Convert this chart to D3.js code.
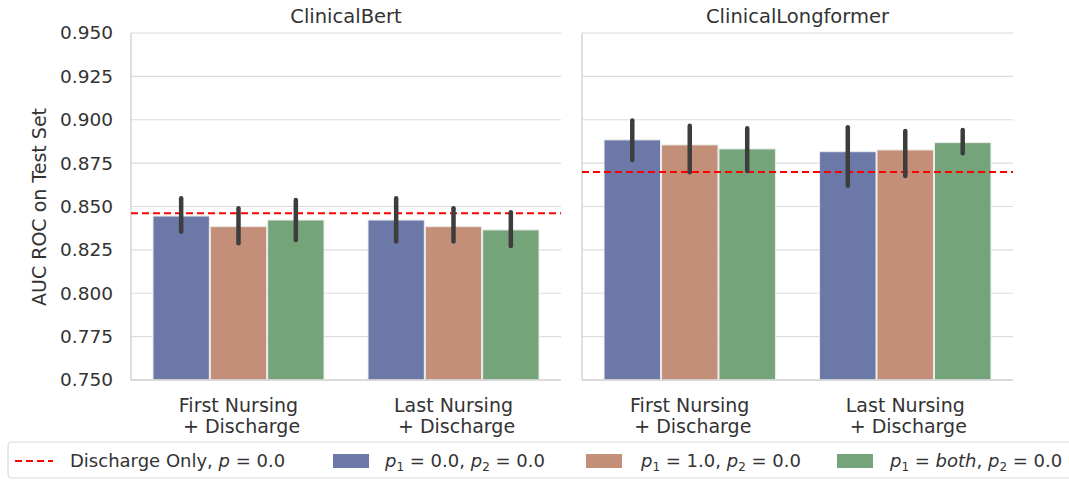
<!DOCTYPE html>
<html><head><meta charset="utf-8">
<script src="https://cdn.jsdelivr.net/npm/d3@7"></script>
<style>body{margin:0;background:#fff;} svg{font-family:"DejaVu Sans",sans-serif;}</style>
</head><body><svg id="c" width="1069" height="480"></svg>
<script>
const panels = ["ClinicalBert", "ClinicalLongformer"];
const categories = ["First Nursing\n + Discharge", "Last Nursing\n + Discharge"];
const seriesNames = ["p1=0.0,p2=0.0", "p1=1.0,p2=0.0", "p1=both,p2=0.0"];
const yTicks = [0.750, 0.775, 0.800, 0.825, 0.850, 0.875, 0.900, 0.925, 0.950];
// values[category][series]
const bertMeans = [[0.8445, 0.8384, 0.8422], [0.8422, 0.8384, 0.8365]];
const bertLow   = [[0.8355, 0.8288, 0.8307], [0.8298, 0.8298, 0.8273]];
const bertHigh  = [[0.8547, 0.8490, 0.8538], [0.8547, 0.8490, 0.8467]];
const longMeans = [[0.8884, 0.8855, 0.8832], [0.8816, 0.8826, 0.8868]];
const longLow   = [[0.8768, 0.8698, 0.8705], [0.8619, 0.8676, 0.8807]];
const longHigh  = [[0.8995, 0.8966, 0.8951], [0.8957, 0.8935, 0.8941]];
const baseline  = [0.8461, 0.8699];
const colors = ["#6c79a8", "#c48f78", "#75a37a"];

const means = [bertMeans, longMeans], lows = [bertLow, longLow], highs = [bertHigh, longHigh];
const svg = d3.select("#c");
const yTop = 33, yBottom = 380;
const panelX = [[131, 561], [582, 1013]];
const y = d3.scaleLinear().domain([0.75, 0.95]).range([yBottom, yTop]);
const txt = "#333";

panels.forEach((name, pi) => {
  const [x0, x1] = panelX[pi];
  const g = svg.append("g");
  const xc = d3.scaleBand().domain(categories).range([x0, x1]).padding(0);
  const inner = d3.scaleBand().domain(seriesNames).range([0, xc.bandwidth() * 0.8]).padding(0);
  g.selectAll("line.grid").data(yTicks).join("line")
    .attr("x1", x0).attr("x2", x1).attr("y1", d => y(d)).attr("y2", d => y(d))
    .attr("stroke", "#dcdcdc").attr("stroke-width", 1.2);
  categories.forEach((c, ci) => {
    const gx = xc(c) + xc.bandwidth() * 0.1;
    seriesNames.forEach((s, si) => {
      const bx = gx + inner(s);
      g.append("rect").attr("x", bx + 0.5).attr("width", inner.bandwidth() - 1)
        .attr("y", y(means[pi][ci][si])).attr("height", yBottom - y(means[pi][ci][si]))
        .attr("fill", colors[si]).attr("stroke", "#ececec").attr("stroke-width", 1);
    });
  });
  g.append("line").attr("x1", x0).attr("x2", x0).attr("y1", yTop).attr("y2", yBottom).attr("stroke", "#d4d4d4").attr("stroke-width", 1.5);
  g.append("line").attr("x1", x0).attr("x2", x1).attr("y1", yBottom).attr("y2", yBottom).attr("stroke", "#d4d4d4").attr("stroke-width", 1.5);
  g.append("line").attr("x1", x0).attr("x2", x1).attr("y1", y(baseline[pi])).attr("y2", y(baseline[pi]))
    .attr("stroke", "#f00").attr("stroke-width", 2).attr("stroke-dasharray", "7,4");
  categories.forEach((c, ci) => {
    const gx = xc(c) + xc.bandwidth() * 0.1;
    seriesNames.forEach((s, si) => {
      const cx = gx + inner(s) + inner.bandwidth() / 2;
      g.append("line").attr("x1", cx).attr("x2", cx)
        .attr("y1", y(lows[pi][ci][si])).attr("y2", y(highs[pi][ci][si]))
        .attr("stroke", "#3d3d3d").attr("stroke-width", 4.5).attr("stroke-linecap", "round");
    });
    const lines = c.split("\n");
    const cxm = xc(c) + xc.bandwidth() / 2;
    const t = g.append("text").attr("x", cxm).attr("y", 412)
      .attr("text-anchor", "middle").attr("font-size", 19).attr("fill", txt);
    lines.forEach((l, li) => t.append("tspan").attr("x", cxm).attr("dy", li ? 21 : 0).text(l.replace(/^ /, "\u00a0")));
  });
  g.append("text").attr("x", (x0 + x1) / 2).attr("y", 23).attr("text-anchor", "middle")
    .attr("font-size", 19.5).attr("fill", txt).text(name);
  if (pi === 0) {
    g.selectAll("text.yt").data(yTicks).join("text")
      .attr("x", 113).attr("y", d => y(d)).attr("dy", "0.35em").attr("text-anchor", "end")
      .attr("font-size", 18.5).attr("fill", txt).text(d => d3.format(".3f")(d));
  }
});
svg.append("text").attr("transform", "translate(46,207) rotate(-90)").attr("text-anchor", "middle")
  .attr("font-size", 19).attr("fill", txt).text("AUC ROC on Test Set");

const lg = svg.append("g");
lg.append("rect").attr("x", 8).attr("y", 442).attr("width", 1080).attr("height", 36).attr("rx", 4)
  .attr("fill", "#fff").attr("stroke", "#d9d9d9").attr("stroke-width", 1.2);
const ly = 461;
lg.append("line").attr("x1", 15).attr("x2", 53).attr("y1", ly).attr("y2", ly)
  .attr("stroke", "#f00").attr("stroke-width", 2).attr("stroke-dasharray", "7,4");
function mathLabel(xp, parts) {
  const t = lg.append("text").attr("x", xp).attr("y", ly).attr("dy", "0.35em").attr("font-size", 18).attr("fill", txt);
  parts.forEach(p => {
    const s = t.append("tspan").text(p.t);
    if (p.i) s.attr("font-style", "italic");
    if (p.sub) s.attr("font-size", 12).attr("dy", 4);
    if (p.up) s.attr("dy", -4);
  });
}
mathLabel(70, [{t: "Discharge Only, "}, {t: "p", i: 1}, {t: " = 0.0"}]);
const legendX = [[333, 385], [586, 641], [837, 890]];
const pvals = ["0.0", "1.0", "both"];
seriesNames.forEach((s, si) => {
  lg.append("rect").attr("x", legendX[si][0]).attr("y", ly - 7).attr("width", 36).attr("height", 14)
    .attr("fill", colors[si]);
  mathLabel(legendX[si][1], [
    {t: "p", i: 1}, {t: "1", sub: 1}, {t: " = ", up: 1},
    {t: pvals[si], i: si === 2 ? 1 : 0}, {t: ", "}, {t: "p", i: 1}, {t: "2", sub: 1}, {t: " = 0.0", up: 1}
  ]);
});
</script></body></html>
